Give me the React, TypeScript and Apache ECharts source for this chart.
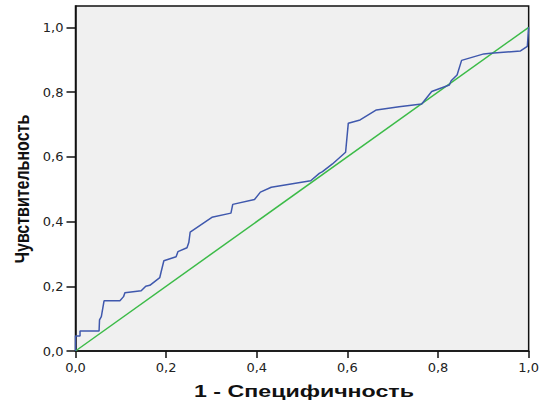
import React, { useEffect, useRef } from "react";
import * as echarts from "echarts";

const fpr = [0, 0, 0.01, 0.01, 0.052, 0.053, 0.057, 0.063, 0.098, 0.106, 0.109, 0.145, 0.155, 0.164, 0.186, 0.189, 0.195, 0.222, 0.226, 0.246, 0.25, 0.253, 0.301, 0.343, 0.347, 0.395, 0.408, 0.432, 0.519, 0.538, 0.545, 0.567, 0.596, 0.602, 0.628, 0.664, 0.714, 0.764, 0.786, 0.825, 0.829, 0.842, 0.852, 0.901, 0.916, 0.982, 0.997, 1.0];
const tpr = [0, 0.046, 0.046, 0.062, 0.062, 0.096, 0.106, 0.155, 0.155, 0.168, 0.18, 0.186, 0.2, 0.203, 0.227, 0.245, 0.279, 0.291, 0.307, 0.319, 0.335, 0.367, 0.413, 0.426, 0.453, 0.468, 0.491, 0.506, 0.526, 0.549, 0.554, 0.578, 0.614, 0.704, 0.714, 0.745, 0.755, 0.763, 0.802, 0.822, 0.835, 0.853, 0.898, 0.918, 0.92, 0.927, 0.941, 1.0];
const refX = [0, 1];
const refY = [0, 1];
const ticks = [0, 0.2, 0.4, 0.6, 0.8, 1.0];
const xTitle = "1 - Специфичность";
const yTitle = "Чувствительность";

export default function App() {
  const ref = useRef<HTMLDivElement>(null);
  useEffect(() => {
    if (!ref.current) return;
    const chart = echarts.init(ref.current, null, { renderer: "svg" });
    const fmt = (v: number) => v.toFixed(1).replace(".", ",");
    const labelStyle = { fontFamily: "DejaVu Sans, sans-serif", fontSize: 13, color: "#222" };
    const titleFont = "Liberation Sans, Arial, sans-serif";
    chart.setOption({
      animation: false,
      backgroundColor: "#ffffff",
      grid: {
        left: 75.5,
        right: 12,
        top: 6,
        bottom: 54,
        show: true,
        backgroundColor: "#f0f0f0",
        borderColor: "#111",
        borderWidth: 1.5,
      },
      graphic: [
        {
          type: "text",
          x: 304,
          y: 391,
          scaleX: 1.45,
          style: {
            text: xTitle,
            fontFamily: titleFont,
            fontSize: 16,
            fontWeight: "bold",
            fill: "#111",
            align: "center",
            verticalAlign: "middle",
          },
        },
        {
          type: "text",
          x: 22,
          y: 189,
          rotation: Math.PI / 2,
          scaleY: 1.25,
          style: {
            text: yTitle,
            fontFamily: titleFont,
            fontSize: 16,
            fontWeight: "bold",
            fill: "#111",
            align: "center",
            verticalAlign: "middle",
          },
        },
      ],
      xAxis: {
        type: "value",
        min: 0,
        max: 1,
        interval: 0.2,
        axisLine: { show: true, lineStyle: { color: "#111", width: 1.5 } },
        axisTick: { show: true, length: 7, lineStyle: { color: "#111", width: 1.5 }, customValues: ticks },
        axisLabel: { ...labelStyle, margin: 10, formatter: fmt, customValues: ticks },
        splitLine: { show: false },
      },
      yAxis: {
        type: "value",
        min: 0,
        max: 1.066,
        axisLine: { show: true, lineStyle: { color: "#111", width: 1.5 } },
        axisTick: { show: true, length: 9, lineStyle: { color: "#111", width: 1.5 }, customValues: ticks },
        axisLabel: { ...labelStyle, margin: 12, formatter: fmt, customValues: ticks },
        splitLine: { show: false },
      },
      series: [
        {
          type: "line",
          data: refX.map((x, i) => [x, refY[i]]),
          symbol: "none",
          lineStyle: { color: "#3cbb48", width: 1.5 },
          z: 2,
        },
        {
          type: "line",
          data: fpr.map((x, i) => [x, tpr[i]]),
          symbol: "none",
          lineStyle: { color: "#3f58ad", width: 1.5 },
          z: 3,
        },
      ],
    });
    return () => chart.dispose();
  }, []);
  return <div ref={ref} style={{ position: "fixed", left: 0, top: 0, width: 542, height: 405 }} />;
}
